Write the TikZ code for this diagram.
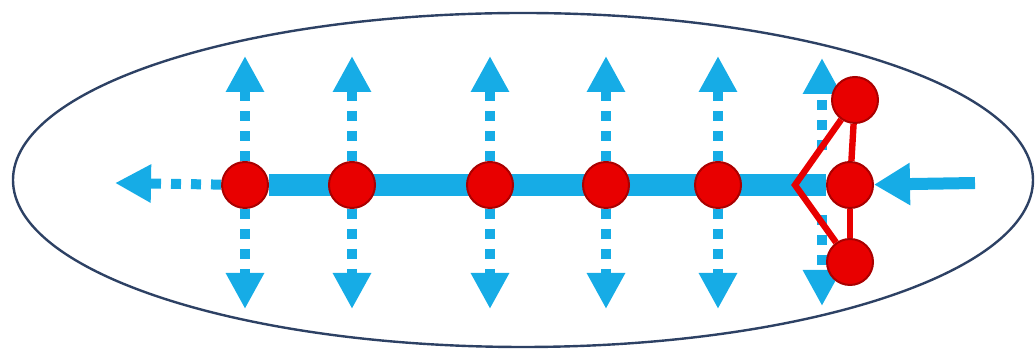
\documentclass[tikz,border=0pt]{standalone}
\usepackage{xcolor}
\usepackage{tikz}
\usetikzlibrary{arrows.meta, positioning, backgrounds}

\definecolor{flowblue}{RGB}{22,172,230}
\definecolor{sitered}{RGB}{232,0,0}
\definecolor{sitedark}{RGB}{170,0,0}
\definecolor{shellnavy}{RGB}{45,65,100}

\tikzset{
  site/.style={circle, draw=sitedark, line width=1pt, fill=sitered, minimum size=23pt, inner sep=0pt},
  spread/.style={flowblue, line width=5pt, dash pattern=on 5pt off 5pt, -{Triangle[width=18pt, length=18pt]}},
  bond/.style={sitered, line width=3.2pt, line join=miter}
}

\begin{document}
\begin{tikzpicture}[x=0.5pt, y=-0.5pt]
    \useasboundingbox (0,0) rectangle (1035,351);
    \draw[shellnavy, line width=1.2pt] (523,180) ellipse [x radius=510, y radius=167];

    % chain sites
    \node[site] (s1) at (245,185) {};
    \node[site] (s2) at (352,185) {};
    \node[site] (s3) at (490,185) {};
    \node[site] (s4) at (606,185) {};
    \node[site] (s5) at (718,185) {};
    \node[site] (hub) at (850,185) {};
    \node[site] (top) at (855,100) {};
    \node[site] (bot) at (850,262) {};
    \coordinate (apex) at (795,185);
    \coordinate (inlet) at (975,183);
    \coordinate (outlet) at (115,183);

    \begin{scope}[on background layer]
      \draw[flowblue, line width=11pt] (s1) -- (hub);
      \draw[spread] (822,150) -- (822,58);
      \draw[spread] (822,215) -- (822,306);
    \end{scope}

    % spreading arrows
    \foreach \s in {s1, s2, s3, s4, s5} {
      \draw[spread] (\s.north) -- ++(0,-105);
      \draw[spread] (\s.south) -- ++(0,100);
    }
    \draw[spread] (s1) -- (outlet);
    \draw[flowblue, line width=6pt, -{Triangle[width=20pt, length=18pt]}] (inlet) -- (hub);

    % red branch
    \draw[bond] (top) -- (apex) -- (bot);
    \draw[bond] (top) -- (hub);
    \draw[bond] (hub) -- (bot);
  \end{tikzpicture}
\end{document}
